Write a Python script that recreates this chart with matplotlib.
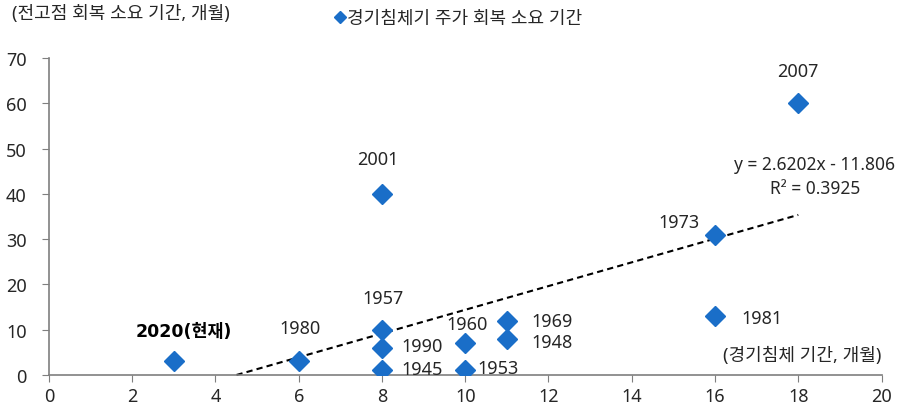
import matplotlib.pyplot as plt

plt.rcParams['font.family'] = ['Noto Sans', 'Noto Sans CJK KR']

years = ['2020(현재)', '1980', '1957', '1990', '1945', '2001', '1960', '1953',
         '1969', '1948', '1973', '1981', '2007']
recession_months = [3, 6, 8, 8, 8, 8, 10, 10, 11, 11, 16, 16, 18]
recovery_months = [3, 3, 10, 6, 1, 40, 7, 1, 12, 8, 31, 13, 60]

slope = 2.6202
intercept = -11.806
r_squared = 0.3925

x_ticks = [0, 2, 4, 6, 8, 10, 12, 14, 16, 18, 20]
y_ticks = [0, 10, 20, 30, 40, 50, 60, 70]

blue = '#1a6ec8'
grey = '#7f7f7f'
text_col = '#262626'

# label offsets in points and alignment, per year
label_pos = {
    '2020(현재)': (7, 22, 'center'),
    '1980': (1, 24, 'center'),
    '1957': (1, 23, 'center'),
    '1990': (14, 1, 'left'),
    '1945': (14, 1, 'left'),
    '2001': (-3, 25, 'center'),
    '1960': (1, 14, 'center'),
    '1953': (9, 2, 'left'),
    '1969': (18, 0, 'left'),
    '1948': (18, -2, 'left'),
    '1973': (-26, 9, 'center'),
    '1981': (19, -1, 'left'),
    '2007': (0, 23, 'center'),
}

fig = plt.figure(figsize=(9.14, 4.1), dpi=100)
ax = fig.add_axes([0.0535, 0.083, 0.911, 0.773])

ax.plot(recession_months, recovery_months, linestyle='none', marker='D',
        markersize=10, color=blue, zorder=3)

# trendline from the regression coefficients, starting where it crosses zero
x0 = -intercept / slope
x1 = max(recession_months)
ax.plot([x0, x1], [slope * x0 + intercept, slope * x1 + intercept],
        linestyle=(0, (3, 2)), color='black', linewidth=1.5, zorder=2,
        clip_on=False)

for yr, xv, yv in zip(years, recession_months, recovery_months):
    dx, dy, ha = label_pos[yr]
    if yr.startswith('2020'):
        # current cycle in bold (Noto Sans has no bold face installed)
        ax.annotate(yr, (xv, yv), xytext=(dx, dy), textcoords='offset points',
                    ha=ha, va='center', fontsize=12.5, fontweight='bold',
                    color='black', family=['DejaVu Sans', 'Noto Sans CJK KR'])
    else:
        ax.annotate(yr, (xv, yv), xytext=(dx, dy), textcoords='offset points',
                    ha=ha, va='center', fontsize=13, color=text_col)

ax.text(18.4, 46.5, f'y = {slope}x - {-intercept}', ha='center', va='center',
        fontsize=12.5, color=text_col)
ax.text(18.4, 41.2, f'R² = {r_squared}', ha='center', va='center',
        fontsize=12.5, color=text_col)

ax.set_xlim(0, 20)
ax.set_ylim(0, 70)
ax.set_xticks(x_ticks)
ax.set_yticks(y_ticks)
ax.tick_params(labelsize=13, colors=grey, labelcolor=text_col, length=5,
               direction='out')
ax.tick_params(axis='y', pad=11)
for side in ['top', 'right']:
    ax.spines[side].set_visible(False)
for side in ['left', 'bottom']:
    ax.spines[side].set_color(grey)
    ax.spines[side].set_linewidth(1.2)

fig.text(0.013, 0.965, '(전고점 회복 소요 기간, 개월)', ha='left', va='center',
         fontsize=13, color=text_col)
ax.text(20, 4.5, '(경기침체 기간, 개월)', ha='right', va='center',
        fontsize=13, color=text_col)

# legend
fig.lines.append(plt.Line2D([0.3725], [0.955], marker='D', markersize=6,
                            color=blue, linestyle='none',
                            transform=fig.transFigure))
fig.text(0.38, 0.955, '경기침체기 주가 회복 소요 기간', ha='left', va='center',
         fontsize=13, color=text_col)

fig.savefig('out.png', dpi=100)
